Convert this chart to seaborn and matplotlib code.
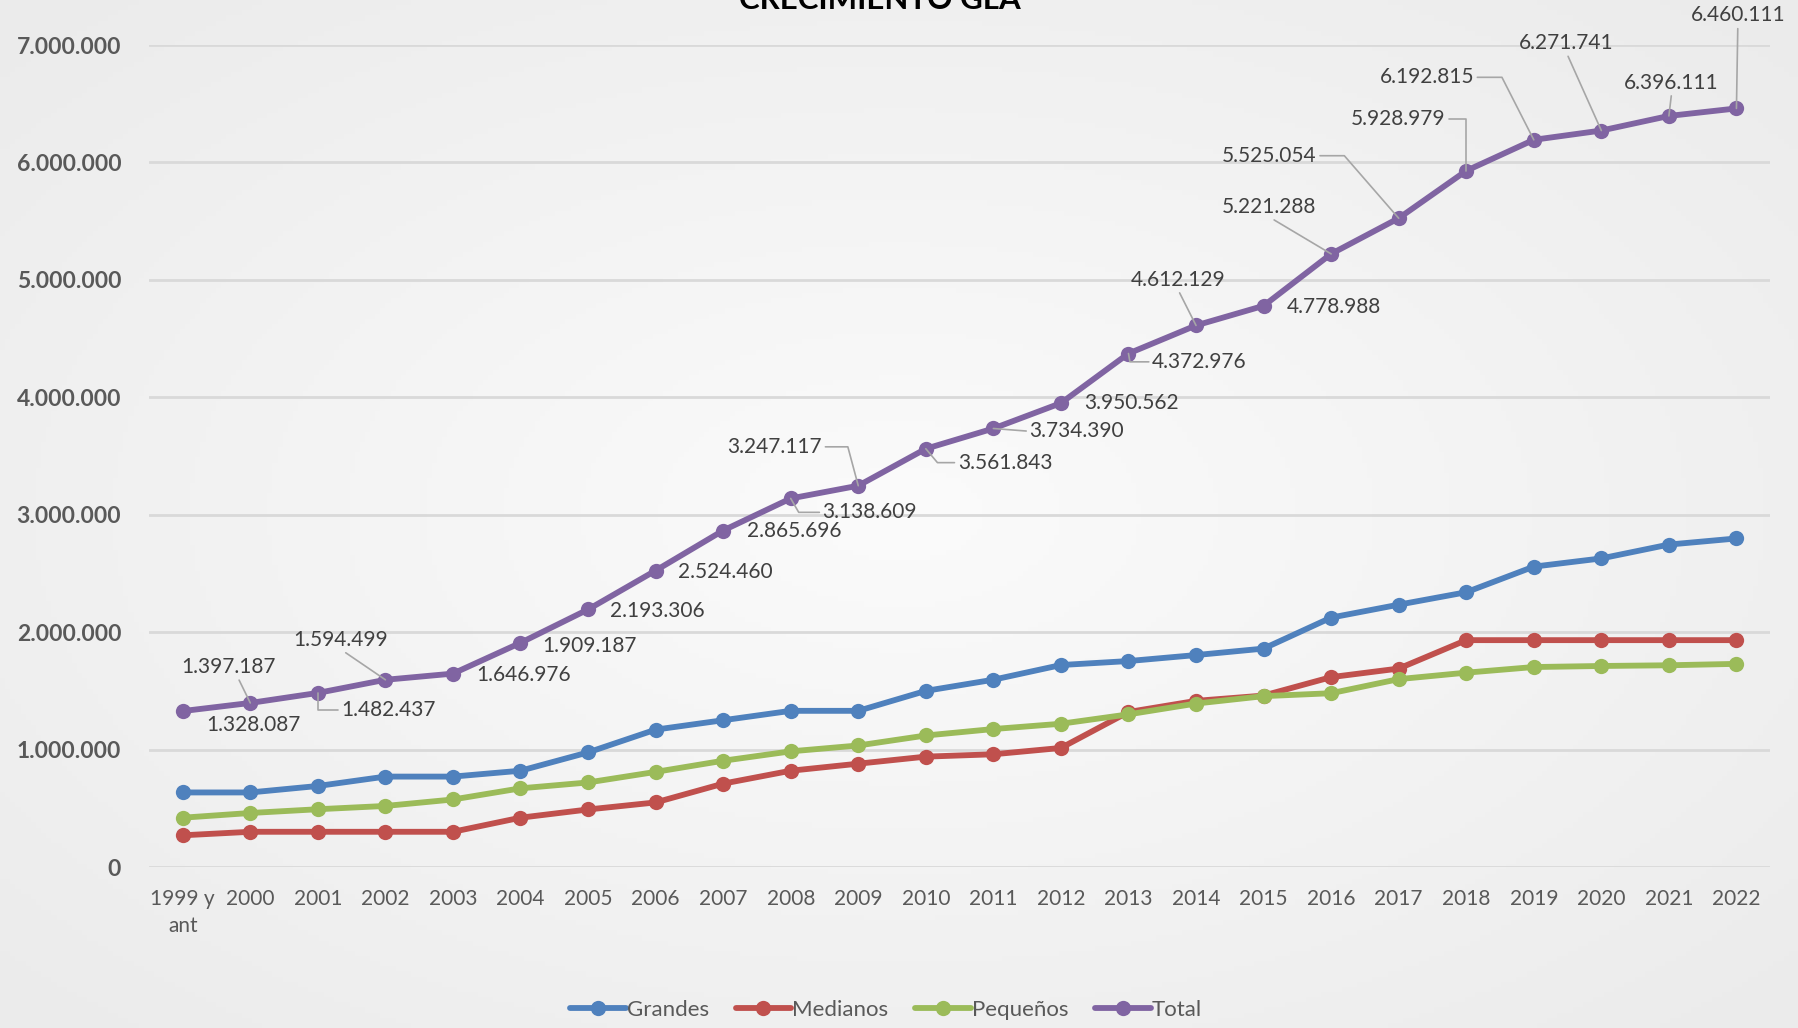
import numpy as np
import pandas as pd
import matplotlib
matplotlib.use("Agg")
import matplotlib.pyplot as plt
import seaborn as sns
from matplotlib.ticker import FuncFormatter

# --- datos ---
anios = ["1999 y\nant", "2000", "2001", "2002", "2003", "2004", "2005", "2006",
         "2007", "2008", "2009", "2010", "2011", "2012", "2013", "2014", "2015",
         "2016", "2017", "2018", "2019", "2020", "2021", "2022"]
grandes = [635000, 635000, 690000, 770000, 770000, 820000, 976000, 1170000,
           1250000, 1330000, 1330000, 1500000, 1595000, 1720000, 1754000, 1805000,
           1860000, 2124000, 2234000, 2340000, 2558000, 2628000, 2746000, 2798000]
medianos = [270000, 300000, 300000, 300000, 300000, 420000, 490000, 550000,
            710000, 820000, 880000, 940000, 960000, 1014000, 1320000, 1415000,
            1460000, 1617000, 1690000, 1932000, 1932000, 1932000, 1932000, 1932000]
pequenos = [420000, 460000, 492000, 520000, 575000, 670000, 720000, 810000,
            905000, 985000, 1035000, 1120000, 1175000, 1220000, 1300000, 1392000,
            1455000, 1480000, 1600000, 1655000, 1703000, 1712000, 1718000, 1730000]
total = [1328087, 1397187, 1482437, 1594499, 1646976, 1909187, 2193306, 2524460,
         2865696, 3138609, 3247117, 3561843, 3734390, 3950562, 4372976, 4612129,
         4778988, 5221288, 5525054, 5928979, 6192815, 6271741, 6396111, 6460111]
series = ["Grandes", "Medianos", "Pequeños", "Total"]
colores = ["#4F81BD", "#C0504D", "#9BBB59", "#8064A2"]

df = pd.DataFrame({
    "anio": anios * 4,
    "valor": grandes + medianos + pequenos + total,
    "serie": np.repeat(series, len(anios)),
})

# --- estilo ---
sns.set_style("white")
plt.rcParams['font.family'] = ['Lato', 'DejaVu Sans']

fig = plt.figure(figsize=(17.99, 10.28), dpi=100)
fig.patch.set_facecolor('#ededed')

# fondo con degradado suave
bg = fig.add_axes([0, 0, 1, 1], zorder=-10)
yy, xx = np.mgrid[-1:1:200j, -1:1:350j]
r = np.sqrt(xx ** 2 + yy ** 2)
bg.imshow(np.clip(r, 0, 1.4), cmap=matplotlib.colors.LinearSegmentedColormap.from_list(
    'g', ['#fbfbfb', '#ebebeb']), aspect='auto', extent=[0, 1, 0, 1])
bg.axis('off')

ax = fig.add_axes([0.0828, 0.1566, 0.9012, 0.7996])
ax.set_facecolor('none')

sns.lineplot(data=df, x="anio", y="valor", hue="serie", palette=colores,
             marker='o', markersize=11, markeredgewidth=0, linewidth=4.2,
             sort=False, ax=ax)

ax.set_xlim(-0.5, len(anios) - 0.5)
ax.set_ylim(0, 7000000)
ax.set_yticks(np.arange(0, 7000001, 1000000))
ax.yaxis.set_major_formatter(FuncFormatter(lambda v, p: f'{int(v):,}'.replace(',', '.')))
ax.grid(axis='y', color='#d9d9d9', linewidth=2)
ax.grid(axis='x', visible=False)
for s in ax.spines.values():
    s.set_visible(False)
ax.set_xlabel('')
ax.set_ylabel('')
ax.tick_params(axis='y', length=0, pad=20, labelsize=16.5, labelcolor='#595959')
ax.tick_params(axis='x', length=0, pad=16, labelsize=15, labelcolor='#595959')
for t in ax.get_yticklabels():
    t.set_fontweight('bold')
for t in ax.get_xticklabels():
    t.set_linespacing(1.45)

# --- etiquetas del total ---
# (dx, dy) en puntos, alineacion, estilo de linea guia
etiquetas = [
    ((17, -10), 'left', None),
    ((-16, 26), 'center', ('arc3', (0.6, 0))),
    ((17, -12), 'left', ('angle,angleA=0,angleB=90', (0, 0.5))),
    ((-32, 29), 'center', ('arc3', (0.5, 0))),
    ((17, -1), 'left', None),
    ((16, -2), 'left', None),
    ((16, -1), 'left', None),
    ((16, -1), 'left', None),
    ((17, 0), 'left', None),
    ((23, -10), 'left', ('angle,angleA=0,angleB=120', (0, 0.5))),
    ((-26, 28), 'right', ('angle,angleA=0,angleB=105', (1, 0.5))),
    ((23, -10), 'left', ('angle,angleA=0,angleB=130', (0, 0.5))),
    ((26, -2), 'left', ('arc3', (0, 0.5))),
    ((17, 0), 'left', None),
    ((17, -6), 'left', ('angle,angleA=0,angleB=100', (0, 0.5))),
    ((-13, 33), 'center', ('arc3', (0.5, 0))),
    ((17, -1), 'left', None),
    ((-45, 34), 'center', ('arc3', (0.5, 0))),
    ((-59, 45), 'right', ('angle,angleA=0,angleB=-49', (1, 0.5))),
    ((-15, 37), 'right', ('angle,angleA=0,angleB=90', (1, 0.5))),
    ((-43, 45), 'right', ('angle,angleA=0,angleB=-63', (1, 0.5))),
    ((-25, 63), 'center', ('arc3', (0.5, 0))),
    ((2, 24), 'center', ('arc3', (0.5, 0))),
    ((1, 67), 'center', ('arc3', (0.5, 0))),
]
for i, (v, (off, ha, guia)) in enumerate(zip(total, etiquetas)):
    kw = {}
    if guia is not None:
        kw['arrowprops'] = dict(arrowstyle='-', color='#a6a6a6', lw=1.2,
                                connectionstyle=guia[0], relpos=guia[1],
                                shrinkA=0, shrinkB=0)
    ax.annotate(f'{v:,}'.replace(',', '.'), xy=(i, v), xytext=off,
                textcoords='offset points', ha=ha, va='center',
                fontsize=15, color='#404040', annotation_clip=False, **kw)

# --- titulo (recortado arriba como en el original) ---
fig.text(0.489, 0.991, 'CRECIMIENTO GLA', ha='center', va='baseline',
         fontsize=22.5, fontweight='bold', color='#000000')

# --- leyenda ---
handles, labels = ax.get_legend_handles_labels()
ax.legend(handles, labels, loc='center', bbox_to_anchor=(0.4925, 0.0175),
          bbox_transform=fig.transFigure, ncol=4, frameon=False,
          fontsize=16, handlelength=2.5, handletextpad=0.05, columnspacing=1.2,
          labelcolor='#595959')

fig.savefig('out.png', dpi=100, facecolor=fig.get_facecolor())
